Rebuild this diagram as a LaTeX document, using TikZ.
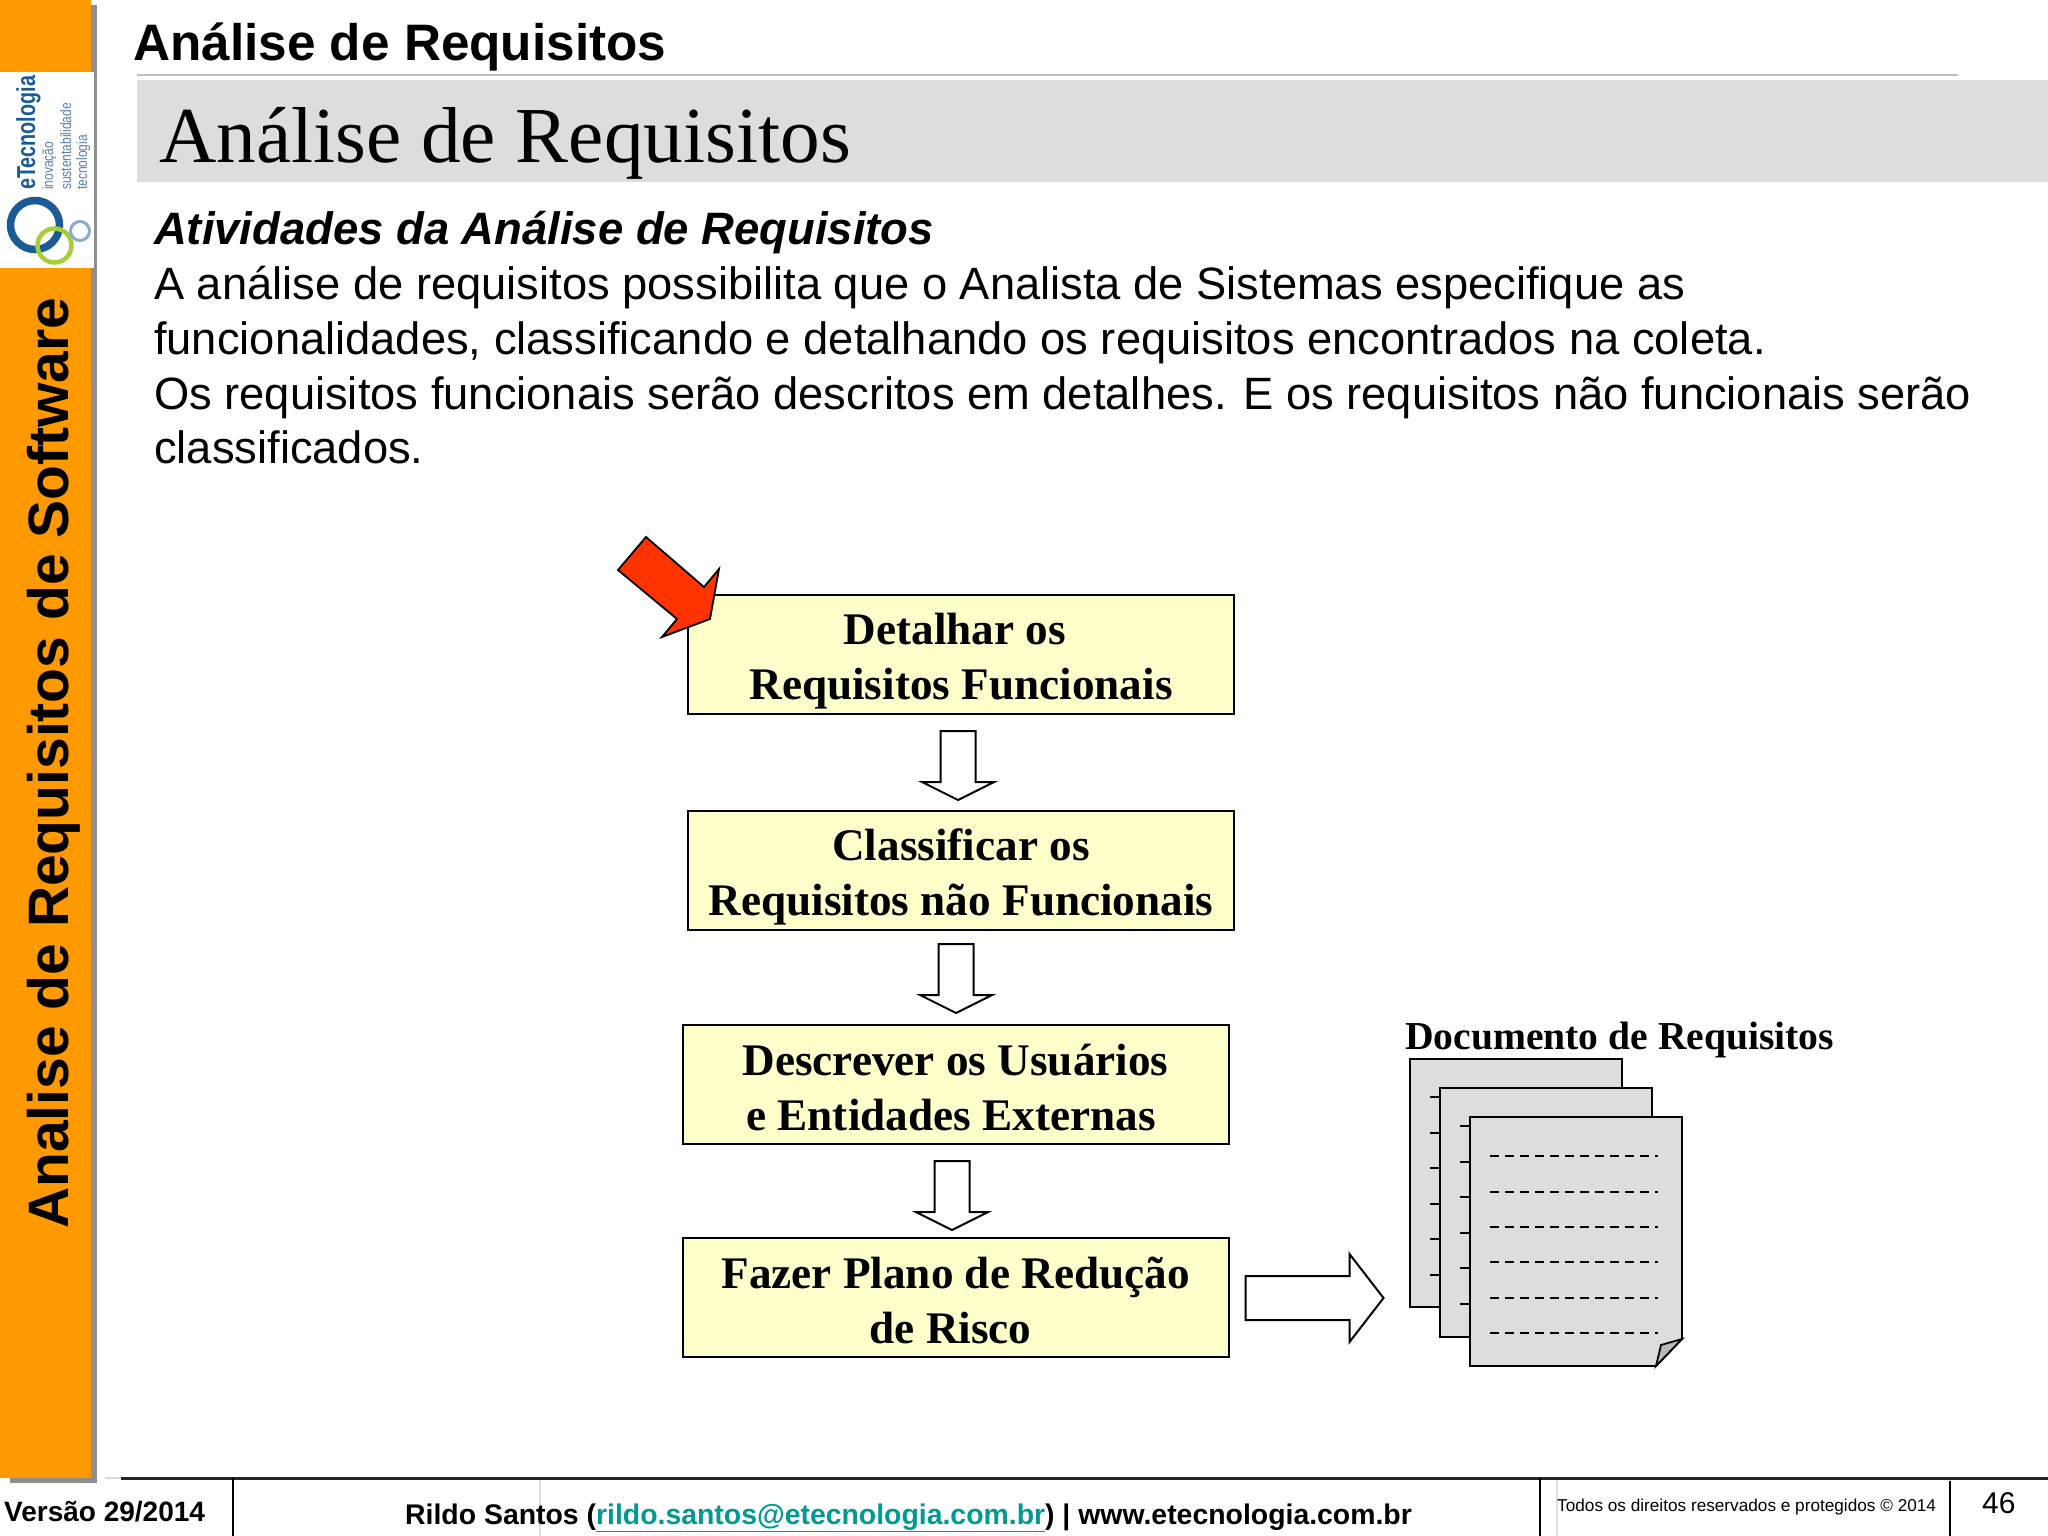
\documentclass[tikz,border=0pt]{standalone}
\usepackage{fontspec}
\usepackage{xcolor}
\setmainfont{Liberation Sans}
\newfontfamily\serifbox{Liberation Serif}
\definecolor{bandorange}{HTML}{FF9900}
\definecolor{bandshadow}{HTML}{8E8E8E}
\definecolor{titlegrey}{HTML}{DDDCDF}
\definecolor{boxyellow}{HTML}{FFFFCC}
\definecolor{sheetgrey}{HTML}{DDDDDF}
\definecolor{foldgrey}{HTML}{B9B9B9}
\definecolor{arrowred}{HTML}{FF3300}
\definecolor{logoblue}{HTML}{1B5A96}
\definecolor{logosoft}{HTML}{5D80AC}
\definecolor{logogreen}{HTML}{A6CE39}
\definecolor{logopale}{HTML}{8FA9CB}
\definecolor{linkteal}{HTML}{009A94}
\newcommand{\boxstrut}[1]{\rule{0pt}{#1pt}}
\tikzset{
	blockdown/.style 2 args={to path={([xshift=#1,yshift=-#2]\tikztostart.south) -- ++(35,0) -- ++(0,51) -- ++(18.5,0) -- ++(-36,18) -- ++(-36,-18) -- ++(18.5,0) -- cycle}},
	blockright/.style={to path={([xshift=16]\tikztostart.east) ++(0,-21.5) -- ++(104,0) -- ++(0,-22) -- ++(34,44) -- ++(-34,44) -- ++(0,-22) -- ++(-104,0) -- cycle}}
}
\begin{document}
\begin{tikzpicture}[x=1pt,y=-1pt]
	\tikzstyle{edge} = [draw=black, line width=2]
	\tikzstyle{stepbox} = [edge, fill=boxyellow, minimum width=546, minimum height=119, inner sep=0, align=center, font=\serifbox\bfseries\fontsize{45.2}{55}\selectfont]
	\tikzstyle{sheet} = [draw=black, line width=1.8, fill=sheetgrey]
	\tikzstyle{rowdash} = [line width=2.4, dash pattern=on 9 off 6]
	\tikzstyle{plain} = [inner sep=0, anchor=base west]
	\tikzstyle{bodyline} = [plain, font=\fontsize{45.3}{54}\selectfont]
	\tikzstyle{footline} = [plain, font=\bfseries\fontsize{28.4}{34}\selectfont]
	\useasboundingbox (0,0) rectangle (2048,1536);
	\fill [bandshadow] (10,5) rectangle (97,1483);
	\fill [bandorange] (0,0) rectangle (91,1478);
	\fill [white] (0,72) rectangle (94,268);
	\fill [titlegrey] (137,80) rectangle (2048,182);
	\draw [line width=2, color=black!25] (137,75) -- (1958,75);
	\draw [line width=3, color=black!85] (121,1478) -- (2048,1478);
	\draw [line width=2, color=black!15] (105,1478) -- (121,1478);
	\draw [line width=1.5, color=black!12] (540,1480) -- (540,1536);
	\draw [line width=1.5, color=black!12] (1557,1480) -- (1557,1536);
	\draw [line width=2] (233,1478) -- (233,1536);
	\draw [line width=2] (1540,1478) -- (1540,1536);
	\draw [line width=2] (1950,1481) -- (1950,1536);
	\draw [logoblue, line width=7.5] (35,225) circle (24.5);
	\draw [logogreen, line width=4.5] (54.5,245.5) circle (17);
	\draw [logopale, line width=3] (80,231) circle (9.5);
		\node[plain, rotate=90, text=logoblue, font=\bfseries\fontsize{26}{30}\selectfont] (logoname) at (35,190) {\scalebox{.76}[1]{eTecnologia}};
		\node[plain, rotate=90, text=logosoft, font=\fontsize{15}{17}\selectfont] (logoa) at (53,190) {\scalebox{.8}[1]{inovação}};
		\node[plain, rotate=90, text=logosoft, font=\fontsize{15}{17}\selectfont] (logob) at (71,190) {\scalebox{.8}[1]{sustentabilidade}};
		\node[plain, rotate=90, text=logosoft, font=\fontsize{15}{17}\selectfont] (logoc) at (87,190) {\scalebox{.8}[1]{tecnologia}};
		\node[plain, rotate=90, font=\bfseries\fontsize{57}{66}\selectfont] (band) at (68,1229) {Analise de Requisitos de Software};
		\node[plain, font=\bfseries\fontsize{51.3}{60}\selectfont] (head) at (133,61) {Análise de Requisitos};
		\node[plain, font=\serifbox\fontsize{79.3}{90}\selectfont] (title) at (159,162) {Análise de Requisitos};
		\node[bodyline, font=\bfseries\itshape\fontsize{45.4}{54}\selectfont] (sub) at (154,244) {Atividades da Análise de Requisitos};
		\node[bodyline] (lineb) at (154,299) {A análise de requisitos possibilita que o Analista de Sistemas especifique as};
		\node[bodyline] (linec) at (154,354) {funcionalidades, classificando e detalhando os requisitos encontrados na coleta.};
		\node[bodyline] (lined) at (154,409) {Os requisitos funcionais serão descritos em detalhes. E os requisitos não funcionais serão};
		\node[bodyline] (linee) at (154,463) {classificados.};
		\node[stepbox] (detalhar) at (961,654.5) {\boxstrut{45}Detalhar os\hspace*{12pt}\\Requisitos Funcionais};
		\node[stepbox] (classificar) at (961,870.5) {\boxstrut{45}Classificar os\\Requisitos não Funcionais};
		\node[stepbox] (descrever) at (955.5,1084.5) {\boxstrut{38}Descrever os Usuários\\e Entidades Externas\hspace*{9pt}};
		\node[stepbox] (fazer) at (955.5,1297.5) {\boxstrut{38}Fazer Plano de Redução\\de Risco\hspace*{10pt}};
	\draw [edge, fill=white] (detalhar) to [blockdown={-20.5}{16}] (classificar);
	\draw [edge, fill=white] (classificar) to [blockdown={-22.5}{13}] (descrever);
	\draw [edge, fill=white] (descrever) to [blockdown={-21}{16}] (fazer);
	\draw [sheet] (1410,1059) rectangle (1622,1307);
	\foreach \y in {1097,1133,1168,1204,1239,1275}
		\draw [rowdash] (1430,\y) -- (1600,\y);
	\draw [sheet] (1440,1088) rectangle (1652,1337);
	\foreach \y in {1126,1162,1197,1233,1268,1304}
		\draw [rowdash] (1460,\y) -- (1630,\y);
	\draw [sheet] (1470,1117) -- (1682,1117) -- (1682,1339) -- (1656,1366) -- (1470,1366) -- cycle;
	\foreach \y in {1156,1192,1227,1262,1298,1333}
		\draw [rowdash] (1490,\y) -- (1658,\y);
	\draw [line width=1.8, fill=foldgrey] (1656,1366) -- (1661,1345) -- (1682,1339) -- cycle;
		\coordinate (docfront) at (1470,1298);
	\draw [edge, fill=white] (fazer) to [blockright] (docfront);
		\node[plain, font=\serifbox\bfseries\fontsize{39.6}{44}\selectfont] (doclabel) at (1405,1049) {Documento de Requisitos};
	\draw [edge, fill=arrowred, line width=1.8] (646,537) -- (704,587) -- (719,569) -- (710,619) -- (662,637) -- (677,619) -- (618,570) -- cycle;
		\node[footline, font=\bfseries\fontsize{28}{34}\selectfont] (version) at (4,1521) {Versão 29/2014};
		\node[footline] (author) at (405,1524) {Rildo Santos (\textcolor{linkteal}{\underline{rildo.santos@etecnologia.com.br}}) | www.etecnologia.com.br};
		\node[plain, font=\fontsize{17.2}{22}\selectfont] (rights) at (1557,1511) {Todos os direitos reservados e protegidos © 2014};
		\node[plain, font=\fontsize{30}{34}\selectfont] (page) at (1982,1513) {46};
\end{tikzpicture}
\end{document}
